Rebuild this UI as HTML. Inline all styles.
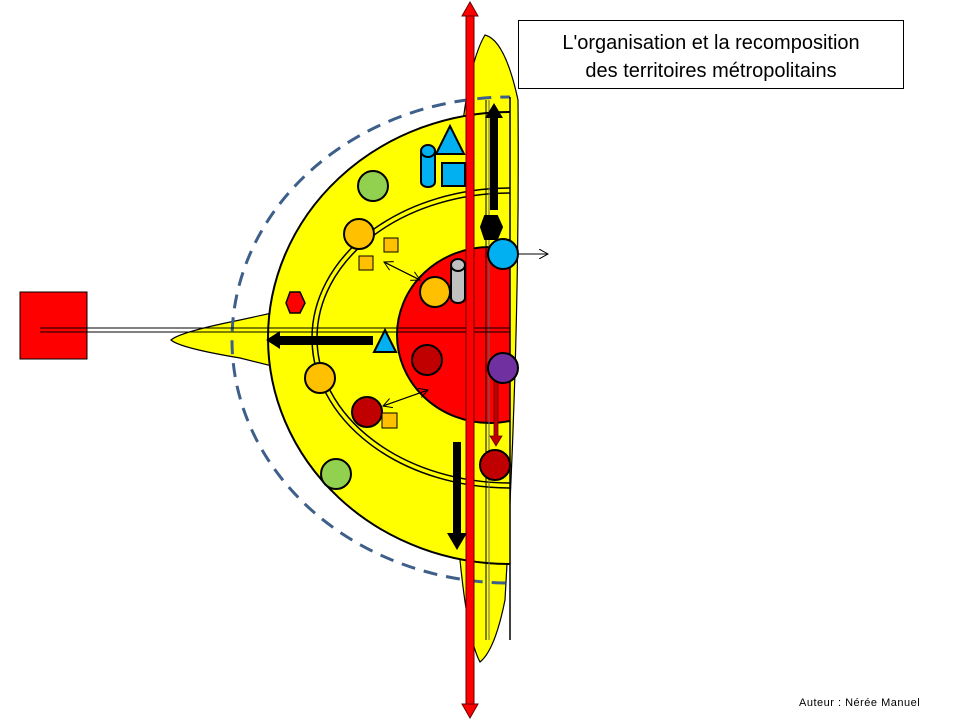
<!DOCTYPE html>
<html><head><meta charset="utf-8"><style>
body{margin:0;background:#fff;width:960px;height:720px;overflow:hidden}
svg{display:block}
</style></head><body>
<svg width="960" height="720" viewBox="0 0 960 720" xmlns="http://www.w3.org/2000/svg">
<defs>
<clipPath id="c"><rect x="0" y="0" width="510" height="720"/></clipPath>
<marker id="ah" markerWidth="10" markerHeight="10" refX="9" refY="5" orient="auto" markerUnits="userSpaceOnUse"><path d="M0,0 L9,5 L0,10" fill="none" stroke="#000" stroke-width="1"/></marker>
</defs>
<!-- horizontal spindle -->
<path d="M272,313 L240,320 Q180,332 171,340 Q180,348 240,358 L272,366 Z" fill="#ff0" stroke="#000" stroke-width="1.2"/>
<!-- vertical spindle -->
<path d="M485,35 Q470,60 462,130 Q452,340 460,560 Q468,640 480,662 Q495,650 505,600 Q520,340 518,100 Q505,40 485,35 Z" fill="#ff0" stroke="#000" stroke-width="1.2"/>
<g clip-path="url(#c)">
<ellipse cx="510" cy="338" rx="242" ry="226" fill="#ff0" stroke="#000" stroke-width="2"/>
<ellipse cx="510" cy="338" rx="198" ry="150" fill="none" stroke="#000" stroke-width="1.5"/>
<ellipse cx="510" cy="338" rx="193" ry="145" fill="none" stroke="#000" stroke-width="1.5"/>
<ellipse cx="490" cy="335" rx="93" ry="88" fill="#f00" stroke="#000" stroke-width="2"/>
<ellipse cx="510" cy="340" rx="278" ry="243" fill="none" stroke="#3d5f8a" stroke-width="3" stroke-dasharray="14,9"/>
</g>
<rect x="455" y="0" width="63" height="720" fill="none"/>
<line x1="510" y1="97" x2="510" y2="640" stroke="#000" stroke-width="1.5"/>
<!-- thin verticals -->
<line x1="486" y1="100" x2="486" y2="640" stroke="#000" stroke-width="1"/>
<line x1="489" y1="100" x2="489" y2="640" stroke="#666" stroke-width="1"/>
<!-- horizontal line -->
<line x1="40" y1="328" x2="510" y2="328" stroke="#000" stroke-width="1"/>
<line x1="40" y1="332" x2="510" y2="332" stroke="#000" stroke-width="1"/>
<!-- red square -->
<rect x="20" y="292" width="67" height="67" fill="#f00" stroke="#000" stroke-width="1"/>
<line x1="40" y1="328" x2="87" y2="328" stroke="#000"/><line x1="40" y1="332" x2="87" y2="332" stroke="#000"/>
<!-- red vertical double arrow -->
<rect x="466" y="14" width="8" height="692" fill="#f00" stroke="#600" stroke-width="1"/>
<path d="M470,2 L478,16 L462,16 Z M470,718 L478,704 L462,704 Z" fill="#f00" stroke="#600"/>
<!-- black arrows -->
<path d="M490,210 L490,118 L485,118 L494,103 L503,118 L498,118 L498,210 Z" fill="#000"/>
<path d="M453,442 L453,533 L447,533 L457,550 L467,533 L461,533 L461,442 Z" fill="#000"/>
<path d="M373,336 L280,336 L280,331 L266,340 L280,349 L280,345 L373,345 Z" fill="#000"/>
<!-- dark red arrow -->
<path d="M494,380 L494,436 L490,436 L496,446 L502,436 L498,436 L498,380 Z" fill="#c00000" stroke="#600" stroke-width="0.8"/>
<!-- thin arrows -->
<line x1="518" y1="254" x2="548" y2="254" stroke="#000" marker-end="url(#ah)"/>
<line x1="420" y1="280" x2="384" y2="262" stroke="#000" marker-end="url(#ah)"/>
<line x1="384" y1="262" x2="420" y2="280" stroke="#000" marker-end="url(#ah)"/>
<line x1="428" y1="390" x2="383" y2="406" stroke="#000" marker-end="url(#ah)"/>
<line x1="383" y1="406" x2="428" y2="390" stroke="#000" marker-end="url(#ah)"/>
<!-- circles -->
<g stroke="#000" stroke-width="2">
<circle cx="373" cy="186" r="15" fill="#92d050"/>
<circle cx="336" cy="474" r="15" fill="#92d050"/>
<circle cx="359" cy="234" r="15" fill="#ffc000"/>
<circle cx="320" cy="378" r="15" fill="#ffc000"/>
<circle cx="435" cy="292" r="15" fill="#ffc000"/>
<circle cx="427" cy="360" r="15" fill="#c00000"/>
<circle cx="367" cy="412" r="15" fill="#c00000"/>
<circle cx="495" cy="465" r="15" fill="#c00000"/>
<circle cx="503" cy="254" r="15" fill="#00b0f0"/>
<circle cx="503" cy="368" r="15" fill="#7030a0"/>
<rect x="384" y="238" width="14" height="14" fill="#ffc000" stroke-width="1"/>
<rect x="359" y="256" width="14" height="14" fill="#ffc000" stroke-width="1"/>
<rect x="382" y="413" width="15" height="15" fill="#ffc000" stroke-width="1"/>
<rect x="442" y="163" width="23" height="23" fill="#00b0f0"/>
<path d="M450,126 L464,154 L436,154 Z" fill="#00b0f0"/>
<path d="M385,330 L396,352 L374,352 Z" fill="#00b0f0"/>
<path d="M421,151 L421,182 A7,5 0 0 0 435,182 L435,151" fill="#00b0f0"/>
<ellipse cx="428" cy="151" rx="7" ry="6" fill="#00b0f0"/>
<path d="M451,265 L451,298 A7,5 0 0 0 465,298 L465,265" fill="#c0c0c0"/>
<ellipse cx="458" cy="265" rx="7" ry="6" fill="#c0c0c0"/>
<path d="M286,303 L290,292 L300,292 L305,303 L300,313 L290,313 Z" fill="#f00" stroke-width="1.5"/>
<path d="M481,227 L485,216 L497,216 L502,227 L497,239 L485,239 Z" fill="#000"/>
</g>
<!-- title box -->
<rect x="518.5" y="20.5" width="385" height="68" fill="#fff" stroke="#000"/>
<text x="711" y="49" font-family="Liberation Sans, sans-serif" font-size="20" text-anchor="middle">L'organisation et la recomposition</text>
<text x="711" y="77" font-family="Liberation Sans, sans-serif" font-size="20" text-anchor="middle">des territoires métropolitains</text>
<text x="799" y="706" font-family="Liberation Sans, sans-serif" font-size="11" letter-spacing="0.5">Auteur : Nérée  Manuel</text>
</svg>
</body></html>
